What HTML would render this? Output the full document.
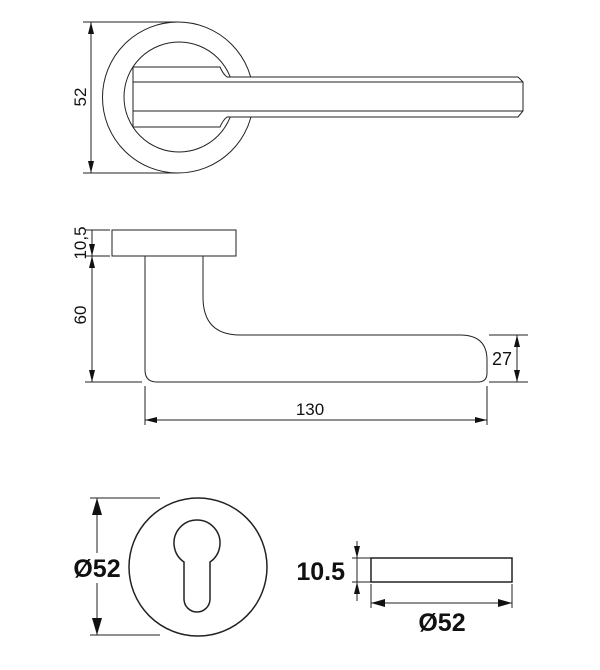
<!DOCTYPE html>
<html><head><meta charset="utf-8"><style>
html,body{margin:0;padding:0;background:#fff;}
svg{display:block;}
text{font-family:"Liberation Sans",Arial,sans-serif;fill:#111;}
</style></head><body>
<svg width="600" height="670" viewBox="0 0 600 670" xmlns="http://www.w3.org/2000/svg">
<g fill="none" stroke="#222" stroke-width="1">
<!-- TOP VIEW -->
<line x1="83" y1="22" x2="178" y2="22"/>
<line x1="83" y1="173" x2="178" y2="173"/>
<line x1="91" y1="22" x2="91" y2="173"/>
<circle cx="178" cy="97.5" r="75.5"/>
<circle cx="179" cy="97" r="55"/>
<path d="M133,67 H220 Q223,74 227,77 H518 L523,82 V111 L518,117 H227 Q223,120 220,127 H133 Z" fill="#fff"/>
<line x1="133" y1="82" x2="523" y2="82"/>
<line x1="133" y1="111" x2="523" y2="111"/>
<!-- SIDE VIEW -->
<rect x="112" y="230" width="124" height="26"/>
<path d="M145,256 V370 Q145,382 157,382 H478 Q487,382 487,373 V360 Q487,335 460,335 H240 Q203,335 203,297 V256"/>
<line x1="85" y1="230" x2="110" y2="230"/>
<line x1="85" y1="256" x2="110" y2="256"/>
<line x1="85" y1="382" x2="142" y2="382"/>
<line x1="92" y1="230" x2="92" y2="382"/>
<line x1="145" y1="386" x2="145" y2="425"/>
<line x1="487" y1="386" x2="487" y2="425"/>
<line x1="145" y1="420" x2="487" y2="420"/>
<line x1="489" y1="335" x2="528" y2="335"/>
<line x1="489" y1="382" x2="528" y2="382"/>
<line x1="517" y1="335" x2="517" y2="382"/>
<!-- BOTTOM -->
<line x1="90" y1="498" x2="160" y2="498"/>
<line x1="90" y1="635" x2="160" y2="635"/>
<line x1="97" y1="498" x2="97" y2="635"/>
<circle cx="198" cy="567" r="69" stroke-width="1.5"/>
<path d="M184,562 A23,23 0 1 1 210,562 L210,599 A13,13 0 0 1 184,599 Z" stroke-width="1.5"/>
<rect x="371" y="558" width="141" height="24" stroke-width="1.5"/>
<line x1="352" y1="558" x2="371" y2="558"/>
<line x1="352" y1="582" x2="371" y2="582"/>
<line x1="357" y1="541" x2="357" y2="601"/>
<line x1="371" y1="584" x2="371" y2="608"/>
<line x1="512" y1="584" x2="512" y2="608"/>
<line x1="371" y1="603" x2="512" y2="603"/>
</g>
<g fill="#111">
<path d="M91,22 l-3,12 h6z"/><path d="M91,173 l-3,-12 h6z"/>
<path d="M92,256 l-3,-12 h6z"/><path d="M92,256 l-3,12 h6z"/>
<path d="M92,382 l-3,-12 h6z"/>
<path d="M145,420 l12,-3 v6z"/><path d="M487,420 l-12,-3 v6z"/>
<path d="M517,335 l-3,12 h6z"/><path d="M517,382 l-3,-12 h6z"/>
<path d="M97,498 l-5,17 h10z"/><path d="M97,635 l-5,-17 h10z"/>
<path d="M357,558 l-3,-12 h6z"/><path d="M357,582 l-3,12 h6z"/>
<path d="M371,603 l14,-4 v8z"/><path d="M512,603 l-14,-4 v8z"/>
</g>
<rect x="72" y="553" width="50" height="30" fill="#fff"/>
<text x="80" y="97" font-size="17" text-anchor="middle" dy="6" transform="rotate(-90 80 97)">52</text>
<text x="80" y="243" font-size="17" text-anchor="middle" dy="6" transform="rotate(-90 80 243)">10,5</text>
<text x="80" y="315" font-size="17" text-anchor="middle" dy="6" transform="rotate(-90 80 315)">60</text>
<text x="310" y="415" font-size="17" text-anchor="middle">130</text>
<text x="502" y="365" font-size="18" text-anchor="middle">27</text>
<text x="97" y="577" font-size="25" font-weight="bold" text-anchor="middle">Ø52</text>
<text x="345" y="580" font-size="25" font-weight="bold" text-anchor="end">10.5</text>
<text x="442" y="631" font-size="25" font-weight="bold" text-anchor="middle">Ø52</text>
</svg>
</body></html>
